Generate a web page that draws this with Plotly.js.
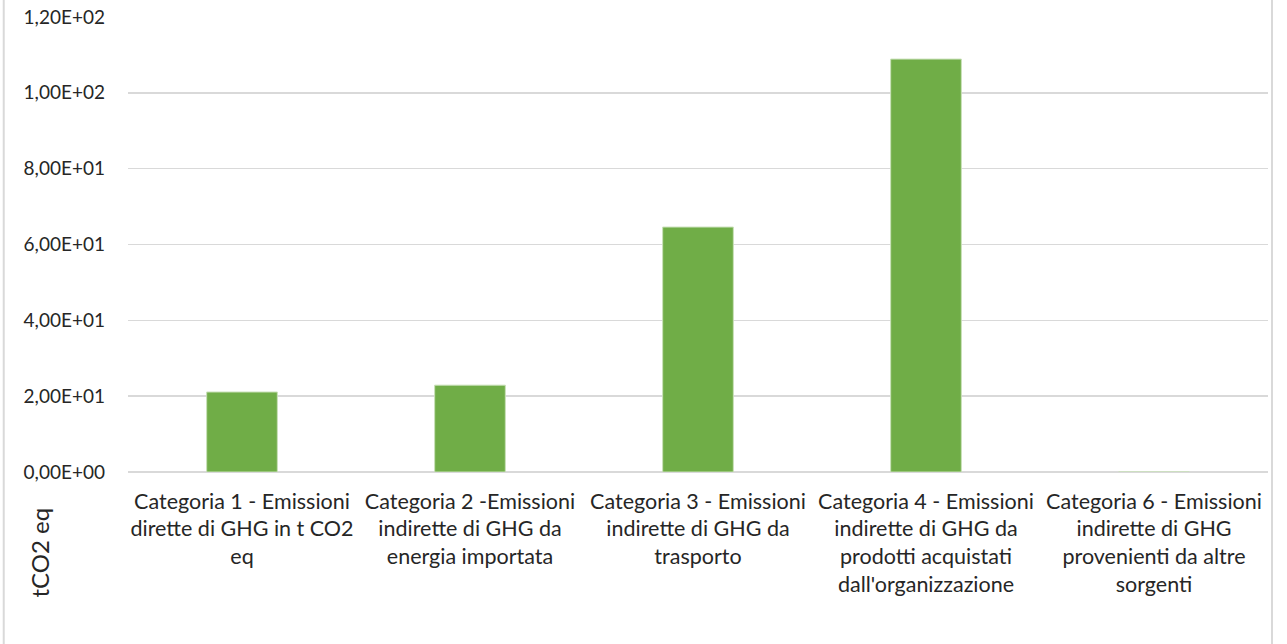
<!DOCTYPE html>
<html>
<head>
<meta charset="utf-8">
<script src="https://cdn.plot.ly/plotly-3.0.1.min.js"></script>
<style>
  html, body { margin: 0; padding: 0; background: #fff; }
  #chart { width: 1287px; height: 644px; }
</style>
</head>
<body>
<div id="chart"></div>
<script>
// Emissioni di GHG per categoria (tCO2 eq)
const categories = [
  "Categoria 1 - Emissioni<br>dirette di GHG in t CO2<br>eq",
  "Categoria 2 -Emissioni<br>indirette di GHG da<br>energia importata",
  "Categoria 3 - Emissioni<br>indirette di GHG da<br>trasporto",
  "Categoria 4 - Emissioni<br>indirette di GHG da<br>prodotti acquistati<br>dall'organizzazione",
  "Categoria 6 - Emissioni<br>indirette di GHG<br>provenienti da altre<br>sorgenti"
];
const emissions = [21.1, 22.9, 64.6, 108.9, 0];
const yTickValues = [0, 20, 40, 60, 80, 100, 120];
const yTickLabels = ["0,00E+00", "2,00E+01", "4,00E+01", "6,00E+01", "8,00E+01", "1,00E+02", "1,20E+02"];
const yAxisLabel = "tCO2 eq";

const font = "Lato, 'Open Sans', sans-serif";

const trace = {
  type: "bar",
  x: categories,
  y: emissions,
  marker: { color: "#70ad47", line: { color: "#c9e0b8", width: 1 } },
  hoverinfo: "x+y"
};

const layout = {
  width: 1287,
  height: 644,
  margin: { l: 128, r: 19, t: 17, b: 172 },
  paper_bgcolor: "#ffffff",
  plot_bgcolor: "#ffffff",
  bargap: 0.69,
  showlegend: false,
  font: { family: font, color: "#262626" },
  xaxis: {
    tickfont: { family: font, size: 21.5, color: "#262626" },
    showgrid: false,
    zeroline: false,
    showline: false,
    ticks: "",
    ticklabelstandoff: 14,
    automargin: false
  },
  yaxis: {
    range: [0, 120],
    tickvals: yTickValues,
    ticktext: yTickLabels,
    tickfont: { family: font, size: 19, color: "#262626" },
    gridcolor: "#d9d9d9",
    gridwidth: 1.5,
    zeroline: true,
    zerolinecolor: "#d9d9d9",
    zerolinewidth: 1.5,
    showline: false,
    ticks: "",
    ticklabelstandoff: 22,
    automargin: false
  },
  annotations: [{
    text: yAxisLabel,
    xref: "paper", yref: "paper",
    x: -0.078, y: -0.177,
    xanchor: "center", yanchor: "middle",
    textangle: -90,
    showarrow: false,
    font: { family: font, size: 24, color: "#262626" }
  }],
  shapes: [
    { type: "line", xref: "paper", yref: "paper", x0: -0.109, x1: -0.109, y0: -0.38, y1: 1.04,
      line: { color: "#d9d9d9", width: 2 } },
    { type: "line", xref: "paper", yref: "paper", x0: 1.0035, x1: 1.0035, y0: -0.38, y1: 1.04,
      line: { color: "#d9d9d9", width: 2 } }
  ]
};

Plotly.newPlot("chart", [trace], layout, { displayModeBar: false, staticPlot: true });
</script>
</body>
</html>
